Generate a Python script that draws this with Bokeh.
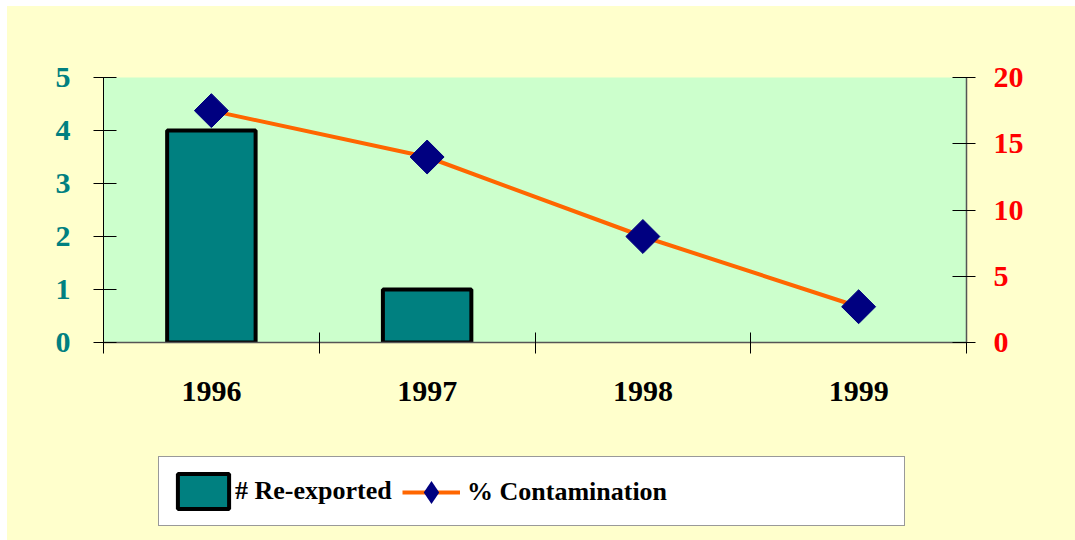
import math
from bokeh.plotting import figure
from bokeh.layouts import column
from bokeh.models import (Range1d, LinearAxis, FixedTicker,
                          Legend, LegendItem, ColumnDataSource)
from bokeh.embed import file_html
from bokeh.resources import INLINE

# ---- data ----
years = ["1996", "1997", "1998", "1999"]
reexported = [4, 1, 0, 0]
contamination = [17.5, 14.0, 8.0, 2.7]
left_ticks = [0, 1, 2, 3, 4, 5]
right_ticks = [0, 5, 10, 15, 20]

TEAL = "#008080"
ORANGE = "#FF6600"
NAVY = "#000080"
YELLOW = "#FFFFCC"
FONT = "Liberation Serif"

n = len(years)
xc = [i + 0.5 for i in range(n)]          # category centres on the numeric scale

W = 1068
p = figure(x_range=Range1d(0, n), y_range=Range1d(0, 5),
           width=W, height=434, output_backend="svg", toolbar_location=None,
           x_axis_location=None, y_axis_location="left",
           min_border_left=96, min_border_right=109, min_border_top=71, min_border_bottom=98,
           background_fill_color="#CCFFCC", border_fill_color=YELLOW,
           outline_line_color=None, margin=0)
p.extra_y_ranges = {"pct": Range1d(0, 20)}

# left axis
ly = p.yaxis[0]
ly.ticker = FixedTicker(ticks=left_ticks)
ly.minor_tick_line_color = None
ly.major_tick_in = 13
ly.major_tick_out = 10
ly.major_tick_line_color = "black"
ly.axis_line_color = "black"
ly.major_label_standoff = 23
ly.major_label_text_font = FONT
ly.major_label_text_font_style = "bold"
ly.major_label_text_font_size = "30px"
ly.major_label_text_color = TEAL

# right axis
ry = LinearAxis(y_range_name="pct", ticker=FixedTicker(ticks=right_ticks))
ry.minor_tick_line_color = None
ry.major_tick_in = 14
ry.major_tick_out = 9
ry.major_tick_line_color = "black"
ry.axis_line_color = "#555555"
ry.axis_line_width = 1.5
ry.major_label_standoff = 18
ry.major_label_text_font = FONT
ry.major_label_text_font_style = "bold"
ry.major_label_text_font_size = "30px"
ry.major_label_text_color = "#FF0000"
p.add_layout(ry, "right")

# bottom tick axis (ticks at category boundaries, no labels)
tx = LinearAxis(ticker=FixedTicker(ticks=list(range(n + 1))))
tx.minor_tick_line_color = None
tx.major_tick_in = 10
tx.major_tick_out = 11
tx.major_tick_line_color = "black"
tx.axis_line_color = "#555555"
tx.axis_line_width = 1.5
tx.major_label_text_color = None
tx.major_label_text_font_size = "1px"
tx.major_label_standoff = 0
p.add_layout(tx, "below")

# bottom category labels
cx = LinearAxis(ticker=FixedTicker(ticks=xc),
                major_label_overrides={c: y for c, y in zip(xc, years)})
cx.axis_line_color = None
cx.major_tick_line_color = None
cx.minor_tick_line_color = None
cx.major_tick_in = 0
cx.major_tick_out = 0
cx.major_label_standoff = 28
cx.major_label_text_font = FONT
cx.major_label_text_font_style = "bold"
cx.major_label_text_font_size = "30px"
cx.major_label_text_color = "black"
p.add_layout(cx, "below")

p.grid.visible = False

# bars (non-zero values only)
bar_src = ColumnDataSource(dict(
    x=[c for c, v in zip(xc, reexported) if v > 0],
    val=[v for v in reexported if v > 0]))
bar_style = dict(fill_color=TEAL, line_color="black", line_width=4)
p.vbar(x="x", top="val", bottom=0, width=0.41, source=bar_src, **bar_style)
p.line(x=xc, y=contamination, y_range_name="pct", line_color=ORANGE, line_width=4)
p.scatter(x=xc, y=contamination, y_range_name="pct", marker="square",
          angle=math.pi / 4, size=24, fill_color=NAVY, line_color=NAVY)

# ---- legend strip (separate figure so the legend is not clipped) ----
q = figure(x_range=Range1d(0, n), y_range=Range1d(0, 20),
           width=W, height=100, output_backend="svg", toolbar_location=None,
           x_axis_location=None, y_axis_location=None, min_border=0,
           background_fill_color=YELLOW, border_fill_color=YELLOW,
           outline_line_color=None, margin=0)
q.grid.visible = False
lbar = q.vbar(x="x", top="val", bottom=0, width=0.41, source=bar_src, visible=False, **bar_style)
lline = q.line(x=xc, y=contamination, line_color=ORANGE, line_width=4, visible=False)
ldiam = q.scatter(x=xc, y=contamination, marker="diamond", size=24,
                  fill_color=NAVY, line_color=None, visible=False)

leg_text = dict(label_text_font=FONT, label_text_font_style="bold",
                label_text_font_size="26px", label_text_color="black")
leg1 = Legend(items=[LegendItem(label="# Re-exported", renderers=[lbar])],
              location=(55, 14), orientation="horizontal",
              padding=12, margin=0, spacing=0,
              glyph_width=64, glyph_height=44, label_standoff=0, label_width=657,
              border_line_color="#333333", border_line_width=1.5,
              background_fill_color="white", background_fill_alpha=1, **leg_text)
q.add_layout(leg1)

leg2 = Legend(items=[LegendItem(label="% Contamination", renderers=[lline, ldiam])],
              location=(299, 19), orientation="horizontal",
              padding=0, margin=0, spacing=0,
              glyph_width=58, glyph_height=58, label_standoff=7,
              border_line_color=None, background_fill_alpha=0, **leg_text)
q.add_layout(leg2)

layout = column(p, q, spacing=0, margin=(6, 0, 0, 7),
                styles={"background-color": YELLOW})
open("out.html", "w").write(file_html(layout, INLINE))
